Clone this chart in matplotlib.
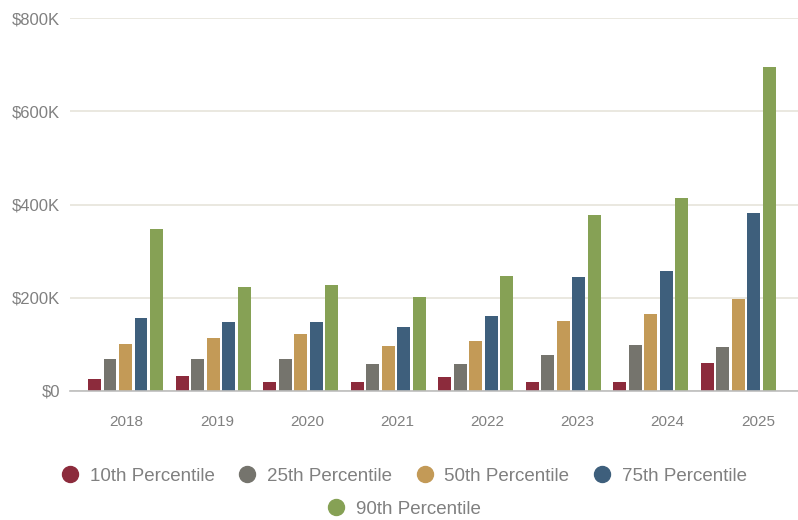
import matplotlib
matplotlib.use("Agg")
import matplotlib.pyplot as plt
from matplotlib.lines import Line2D
import numpy as np

years = ["2018", "2019", "2020", "2021", "2022", "2023", "2024", "2025"]
series_names = ["10th Percentile", "25th Percentile", "50th Percentile", "75th Percentile", "90th Percentile"]
p10 = [26, 33, 20, 20, 31, 19, 20, 59]
p25 = [68, 68, 68, 58, 57, 77, 98, 94]
p50 = [101, 113, 123, 96, 108, 150, 165, 198]
p75 = [157, 148, 148, 138, 160, 245, 258, 381]
p90 = [347, 223, 228, 202, 247, 378, 415, 694]
yticks = [0, 200, 400, 600, 800]
ytick_labels = ["$0", "$200K", "$400K", "$600K", "$800K"]

colors = ["#8C2B3C", "#75746D", "#C39A57", "#3E5F7C", "#86A155"]
text_color = "#808080"

plt.rcParams['font.family'] = ['Liberation Sans', 'DejaVu Sans']

fig = plt.figure(figsize=(7.98, 5.2), dpi=100)
ax = fig.add_axes([70/798, 1-391/520, 1-70/798, (391-18)/520])

x = np.arange(len(years))
pitch = 0.177
width = 0.148
data = [p10, p25, p50, p75, p90]
for i, (vals, c) in enumerate(zip(data, colors)):
    ax.bar(x + (i-2)*pitch, vals, width=width, color=c, zorder=3)

ax.set_ylim(0, 800)
ax.set_xlim(-0.634, 7.68)
ax.set_yticks(yticks)
ax.set_yticklabels(ytick_labels)
# category labels sit on a slightly wider spacing than the bar groups in the reference
ax.set_xticks(x * 1.0297 + 0.014)
ax.set_xticklabels(years)
ax.tick_params(axis='both', length=0, colors=text_color)
ax.tick_params(axis='x', pad=17, labelsize=11)
ax.tick_params(axis='y', pad=7, labelsize=12)
ax.grid(axis='y', color='#E6E4DA', linewidth=1.2, zorder=0)
for s in ['top', 'right', 'left']:
    ax.spines[s].set_visible(False)
ax.spines['bottom'].set_color('#BDBDBD')
ax.spines['bottom'].set_linewidth(1.2)
ax.spines['bottom'].set_zorder(4)

handles = [Line2D([0], [0], marker='o', linestyle='', markersize=11.5,
                  markerfacecolor=c, markeredgecolor=c) for c in colors]
leg1 = fig.legend(handles[:4], series_names[:4], loc='center', bbox_to_anchor=(0.5, 1-476/520),
                  ncol=4, frameon=False, fontsize=13.5, handletextpad=0.05, columnspacing=0.75,
                  labelcolor=text_color)
leg2 = fig.legend(handles[4:], series_names[4:], loc='center', bbox_to_anchor=(0.5, 1-509/520),
                  ncol=1, frameon=False, fontsize=13.5, handletextpad=0.05,
                  labelcolor=text_color)

fig.savefig("out.png", dpi=100)
